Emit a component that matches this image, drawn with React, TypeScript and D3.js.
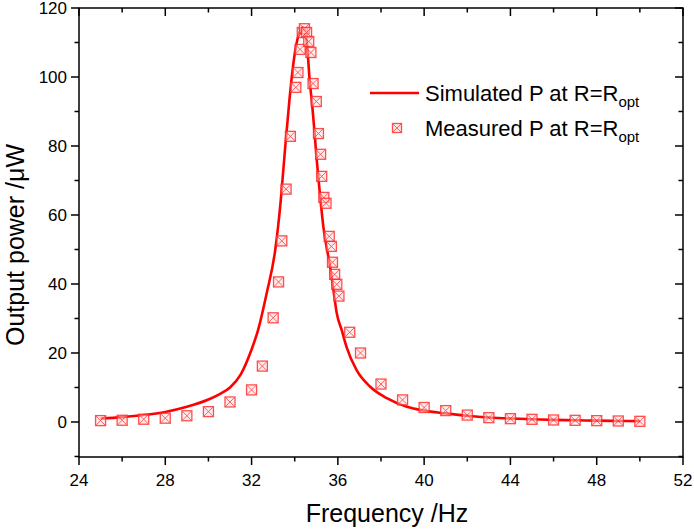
import * as d3 from "d3";

// simulated curve (frequency in Hz, power in µW)
const simFreq = [25, 26, 27, 28, 29, 30, 30.5, 31, 31.5, 32, 32.3, 32.7, 33.1, 33.35, 33.55, 33.75, 33.9, 34.06, 34.2, 34.37, 34.56, 34.7, 34.8, 35.05, 35.33, 35.64, 35.8, 35.95, 36.18, 36.4, 36.87, 37.5, 38.27, 39.2, 40, 41, 42, 43, 44, 45, 46, 47, 48, 49, 50];
const simPower = [1.0, 1.4, 2.0, 2.9, 4.4, 6.5, 8.0, 10.0, 13.8, 21.0, 26.6, 37.3, 50, 64, 79, 93, 102, 109, 112.5, 114.4, 110, 98.5, 92.5, 74, 56.5, 45, 38, 31.5, 26.6, 21.8, 15, 10.2, 6.9, 4.4, 3.3, 2.5, 1.8, 1.3, 1.0, 0.8, 0.6, 0.5, 0.4, 0.3, 0.25];

// measured points
const measFreq = [25, 26, 27, 28, 29, 30, 31, 32, 32.5, 33, 33.25, 33.4, 33.6, 33.8, 34.05, 34.15, 34.25, 34.35, 34.45, 34.55, 34.65, 34.75, 34.85, 35, 35.1, 35.2, 35.25, 35.35, 35.45, 35.6, 35.7, 35.75, 35.85, 35.95, 36.05, 36.55, 37.05, 38, 39, 40, 41, 42, 43, 44, 45, 46, 47, 48, 49, 50];
const measPower = [0.4, 0.5, 0.8, 1.1, 1.8, 3.0, 5.8, 9.3, 16.2, 30.2, 40.6, 52.5, 67.5, 82.8, 97, 101.3, 108, 112.9, 114, 112.9, 110.3, 107.1, 98.1, 92.9, 83.6, 77.6, 71.2, 65.1, 63.4, 53.8, 50.9, 46.3, 42.8, 39.9, 36.5, 26, 20, 11, 6.4, 4.2, 3.3, 2.0, 1.25, 0.96, 0.77, 0.58, 0.48, 0.39, 0.29, 0.19];

const xTicks = [24, 28, 32, 36, 40, 44, 48, 52];
const xMinor = [26, 30, 34, 38, 42, 46, 50];
const yTicks = [0, 20, 40, 60, 80, 100, 120];
const yMinor = [-10, 10, 30, 50, 70, 90, 110];

const font = "Arial, 'Liberation Sans', sans-serif";

function Marker({ cx, cy, s = 5 }: { cx: number; cy: number; s?: number }) {
  return (
    <g stroke="#ff3030" strokeWidth={1.3} fill="none" opacity={0.85}>
      <rect x={cx - s} y={cy - s} width={2 * s} height={2 * s} fill="#ffdede" fillOpacity={0.6} />
      <line x1={cx - s} y1={cy - s} x2={cx + s} y2={cy + s} strokeWidth={0.9} />
      <line x1={cx - s} y1={cy + s} x2={cx + s} y2={cy - s} strokeWidth={0.9} />
    </g>
  );
}

export default function App() {
  const width = 694;
  const height = 530;
  const left = 79, right = 683, top = 8, bottom = 457;

  const x = d3.scaleLinear().domain([24, 52]).range([left, right]);
  const y = d3.scaleLinear().domain([-10.15, 120]).range([bottom, top]);

  const line = d3
    .line<number>()
    .x((_, i) => x(simFreq[i]))
    .y((d) => y(d))
    .curve(d3.curveMonotoneX);

  const major = 8;
  const minor = 4.5;

  return (
    <svg width={width} height={height} style={{ position: "absolute", left: 0, top: 0, background: "#fff" }}>
      <path d={line(simPower) ?? ""} fill="none" stroke="#ff0000" strokeWidth={2.6} />

      {measFreq.map((f, i) => (
        <Marker key={i} cx={x(f)} cy={y(measPower[i])} />
      ))}

      {/* frame */}
      <rect x={left} y={top} width={right - left} height={bottom - top} fill="none" stroke="#000" strokeWidth={1.5} />

      {/* x ticks: bottom outward, top inward */}
      {xTicks.map((v) => (
        <g key={"x" + v}>
          <line x1={x(v)} x2={x(v)} y1={bottom} y2={bottom + major} stroke="#000" strokeWidth={1.5} />
          <line x1={x(v)} x2={x(v)} y1={top} y2={top + major} stroke="#000" strokeWidth={1.5} />
          <text x={x(v)} y={bottom + 29} textAnchor="middle" fontSize={17} fontFamily={font} fill="#000">
            {v}
          </text>
        </g>
      ))}
      {xMinor.map((v) => (
        <g key={"xm" + v}>
          <line x1={x(v)} x2={x(v)} y1={bottom} y2={bottom + minor} stroke="#000" strokeWidth={1.5} />
          <line x1={x(v)} x2={x(v)} y1={top} y2={top + minor} stroke="#000" strokeWidth={1.5} />
        </g>
      ))}

      {/* y ticks: left outward, right inward */}
      {yTicks.map((v) => (
        <g key={"y" + v}>
          <line x1={left - major} x2={left} y1={y(v)} y2={y(v)} stroke="#000" strokeWidth={1.5} />
          <line x1={right - major} x2={right} y1={y(v)} y2={y(v)} stroke="#000" strokeWidth={1.5} />
          <text x={left - 12} y={y(v)} dy="0.35em" textAnchor="end" fontSize={17} fontFamily={font} fill="#000">
            {v}
          </text>
        </g>
      ))}
      {yMinor.map((v) => (
        <g key={"ym" + v}>
          <line x1={left - minor} x2={left} y1={y(v)} y2={y(v)} stroke="#000" strokeWidth={1.5} />
          <line x1={right - minor} x2={right} y1={y(v)} y2={y(v)} stroke="#000" strokeWidth={1.5} />
        </g>
      ))}

      {/* axis titles */}
      <text x={387} y={522} textAnchor="middle" fontSize={25} fontFamily={font} fill="#000">
        Frequency /Hz
      </text>
      <text
        transform="translate(24, 245) rotate(-90)"
        textAnchor="middle"
        fontSize={25}
        fontFamily={font}
        fill="#000"
      >
        Output power /μW
      </text>

      {/* legend */}
      <g fontFamily={font} fill="#000">
        <line x1={370} x2={419} y1={93} y2={93} stroke="#ff0000" strokeWidth={2.6} />
        <text x={425} y={101} fontSize={22}>
          Simulated P at R=R<tspan fontSize={15} dy={6}>opt</tspan>
        </text>
        <Marker cx={397} cy={128} s={4.5} />
        <text x={425} y={136} fontSize={22}>
          Measured P at R=R<tspan fontSize={15} dy={6}>opt</tspan>
        </text>
      </g>
    </svg>
  );
}
